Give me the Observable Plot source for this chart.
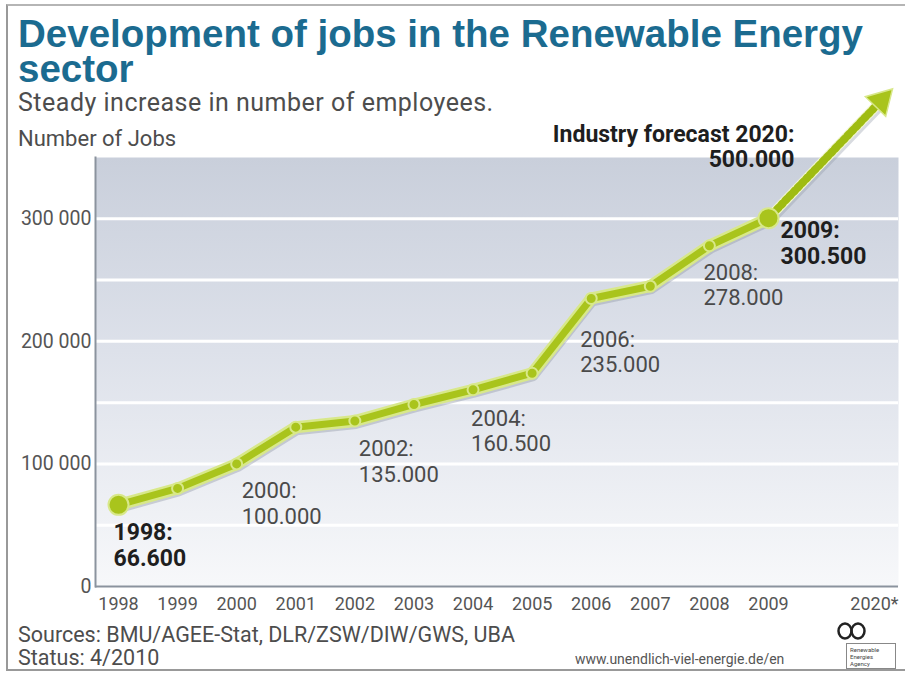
<!DOCTYPE html>
<html>
<head>
<meta charset="utf-8">
<script src="https://cdn.jsdelivr.net/npm/d3@7"></script>
<script src="https://cdn.jsdelivr.net/npm/@observablehq/plot@0.6"></script>
<style>
  body { margin: 0; background: #fff; }
  #wrap { position: relative; width: 905px; height: 675px; overflow: hidden; background: #fff;
          font-family: Roboto, "Noto Sans", sans-serif; }
  #border { position: absolute; left: 6px; top: 4px; width: 905px; height: 667px; box-sizing: border-box;
            border-left: 2px solid #999; border-top: 2px solid #b5b5b5; border-bottom: 2px solid #999; }
  #chart { position: absolute; left: 0; top: 0; }
  h1 { position: absolute; left: 18px; top: 16px; margin: 0; font-family: "Liberation Sans", Arial, sans-serif;
       font-weight: bold; font-size: 38.5px; line-height: 35px; color: #1b6b90; white-space: nowrap; }
  .sub { position: absolute; left: 18px; top: 89px; margin: 0; font-size: 25px; letter-spacing: 0.5px; line-height: 28px; color: #4d4d4d; white-space: nowrap; }
  .ylab { position: absolute; left: 18px; top: 126px; font-size: 22px; line-height: 26px; color: #4d4d4d; white-space: nowrap; }
  .src { position: absolute; left: 18px; top: 623px; font-size: 21.5px; line-height: 23px; color: #4d4d4d; white-space: nowrap; }
  .url { position: absolute; left: 575px; top: 650px; font-size: 14px; line-height: 18px; color: #555; white-space: nowrap; }
  .inf { position: absolute; left: 837px; top: 621px; }
  .logo { position: absolute; left: 846px; top: 643px; width: 50px; height: 26px; box-sizing: border-box;
          border: 1px solid #888; font-size: 6px; line-height: 7px; color: #444; padding: 2px 0 0 3px; }
</style>
</head>
<body>
<div id="wrap">
  <div id="border"></div>
  <div id="chart"></div>
  <h1>Development of jobs in the Renewable Energy<br>sector</h1>
  <div class="sub">Steady increase in number of employees.</div>
  <div class="ylab">Number of Jobs</div>
  <div class="src">Sources: BMU/AGEE-Stat, DLR/ZSW/DIW/GWS, UBA<br>Status: 4/2010</div>
  <div class="url">www.unendlich-viel-energie.de/en</div>
  <svg class="inf" width="30" height="20"><ellipse cx="8" cy="10" rx="6.5" ry="7.5" fill="none" stroke="#222" stroke-width="2.5"/><ellipse cx="21" cy="10" rx="6.5" ry="7.5" fill="none" stroke="#222" stroke-width="2.5"/></svg>
  <div class="logo">Renewable<br>Energies<br>Agency</div>
</div>
<script>
// ---- data ----
const years = [1998, 1999, 2000, 2001, 2002, 2003, 2004, 2005, 2006, 2007, 2008, 2009];
const jobs  = [66600, 80000, 100000, 130000, 135000, 148500, 160500, 174000, 235000, 245000, 278000, 300500];
const labelYears = [1998, 2000, 2002, 2004, 2006, 2008, 2009];
const boldLabelYears = [1998, 2009];
const forecastYear = 2020;
const forecastJobs = 500000;
const arrowTipJobs = 406000;          // where the drawn forecast arrow ends
const yTicks = [0, 100000, 200000, 300000];
const gridValues = [50000, 100000, 150000, 200000, 250000, 300000];
const forecastTickLabel = "2020*";

// ---- build ----
const data = years.map((year, i) => ({year, jobs: jobs[i]}));
const last = data[data.length - 1];
const arrowData = [{x1: last.year, y1: last.jobs, x2: forecastYear, y2: arrowTipJobs}];
const arrowTip = [{year: forecastYear, jobs: arrowTipJobs}];
const fmtDot = v => d3.format(",")(v).replace(/,/g, ".");
const fmtSpace = v => d3.format(",")(v).replace(/,/g, " ");

const green = "#a9c41c", rim = "#d8e88a", shade = "#8e97a5";

const labelOffsets = {1998: [-5, 17], 2000: [5, 16], 2002: [4, 17], 2004: [-2, 18], 2006: [-11, 30], 2008: [-6, 16], 2009: [12, 2]};

const labelMarks = labelYears.map(yr => {
  const d = data.find(e => e.year === yr);
  const bold = boldLabelYears.includes(yr);
  const [dx, dy] = labelOffsets[yr];
  return Plot.text([d], {
    x: "year", y: "jobs", text: e => `${e.year}:\n${fmtDot(e.jobs)}`,
    textAnchor: "start", lineAnchor: "top", lineHeight: bold ? 1.12 : 1.16,
    fontSize: bold ? 23 : 22, fontWeight: bold ? "bold" : "normal",
    fill: bold ? "#1e1e1e" : "#4a4a4a", dx, dy
  });
});

const plot = Plot.plot({
  width: 905, height: 675,
  marginLeft: 95, marginRight: 7, marginTop: 157, marginBottom: 89,
  style: {fontFamily: "Roboto, 'Noto Sans', sans-serif", background: "transparent", overflow: "visible", color: "#555"},
  x: {type: "linear", domain: [1998, 2009, 2020], range: [118, 768, 892]},
  y: {domain: [0, 350000]},
  marks: [
    Plot.frame({fill: "url(#bgGrad)", stroke: "none"}),
    Plot.ruleY(gridValues, {stroke: "#fff", strokeWidth: 3}),
    Plot.ruleY([0], {stroke: "#8b939e", strokeWidth: 2}),
    Plot.frame({anchor: "left", stroke: "#8b939e", strokeWidth: 2}),
    Plot.axisY({ticks: yTicks, tickSize: 0, tickPadding: 4, tickFormat: fmtSpace, fontSize: 19.5, label: null}),
    Plot.axisX({ticks: years, tickSize: 0, tickPadding: 11, tickFormat: d => String(d), fontSize: 18, label: null}),
    Plot.text([{year: forecastYear, jobs: 0}], {x: "year", y: "jobs", text: () => forecastTickLabel,
      textAnchor: "end", lineAnchor: "top", dx: 6, dy: 11, fontSize: 18, fill: "#555"}),
    // shadows
    Plot.line(data, {x: "year", y: "jobs", stroke: shade, strokeWidth: 10, strokeOpacity: 0.4, dx: 1, dy: 3}),
    Plot.arrow(arrowData, {x1: "x1", y1: "y1", x2: "x2", y2: "y2", stroke: shade, strokeWidth: 10,
      strokeOpacity: 0.35, headLength: 0, insetEnd: 14, dx: 1, dy: 3}),
    // dashed forecast arrow
    Plot.arrow(arrowData, {x1: "x1", y1: "y1", x2: "x2", y2: "y2", stroke: "#f1f6cf", strokeWidth: 10, headLength: 0, insetEnd: 14}),
    Plot.arrow(arrowData, {x1: "x1", y1: "y1", x2: "x2", y2: "y2", stroke: "#9fbc12", strokeWidth: 8, headLength: 0,
      insetEnd: 14, strokeDasharray: "2.5,3.5"}),
    Plot.dot(arrowTip, {x: "year", y: "jobs", symbol: "triangle", r: 10.5, fill: green, stroke: rim, strokeWidth: 1.5,
      rotate: 44, dx: -11.3, dy: 11.8}),
    // main line
    Plot.line(data, {x: "year", y: "jobs", stroke: rim, strokeWidth: 12}),
    Plot.line(data, {x: "year", y: "jobs", stroke: green, strokeWidth: 7}),
    Plot.dot(data, {x: "year", y: "jobs", r: 5.5, fill: green, stroke: rim, strokeWidth: 2}),
    Plot.dot([data[0], last], {x: "year", y: "jobs", r: 10, fill: green, stroke: rim, strokeWidth: 2}),
    ...labelMarks,
    Plot.text([last], {x: "year", y: "jobs", text: () => `Industry forecast ${forecastYear}:\n${fmtDot(forecastJobs)}`,
      textAnchor: "end", lineAnchor: "top", lineHeight: 1.1, fontSize: 23, fontWeight: "bold", fill: "#1e1e1e", dx: 26, dy: -94})
  ]
});

d3.select(plot).insert("defs", ":first-child").html(`
  <linearGradient id="bgGrad" x1="0" y1="0" x2="0" y2="1">
    <stop offset="0" stop-color="#c9cfdb"/>
    <stop offset="0.45" stop-color="#dde1ea"/>
    <stop offset="1" stop-color="#f7f8fa"/>
  </linearGradient>`);

document.getElementById("chart").appendChild(plot);
</script>
</body>
</html>
